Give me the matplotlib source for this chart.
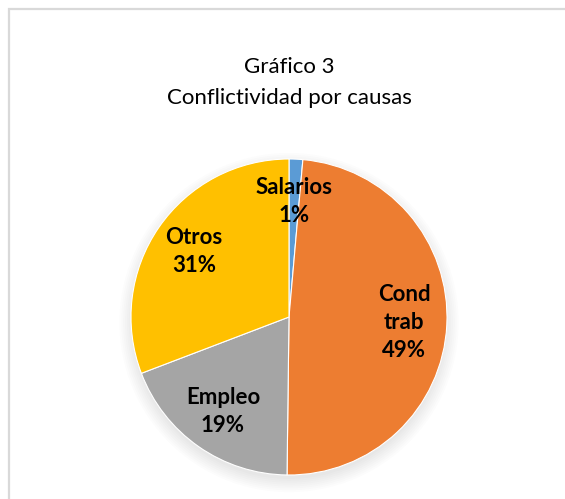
import matplotlib
matplotlib.use("Agg")
import matplotlib.pyplot as plt
from matplotlib.patches import Rectangle, Circle

categories = ["Salarios", "Cond trab", "Empleo", "Otros"]
label_text = ["Salarios", "Cond\ntrab", "Empleo", "Otros"]
values = [1.4, 48.8, 19.0, 30.8]
colors = ["#5B9BD5", "#ED7D31", "#A5A5A5", "#FFC000"]
title_lines = ["Gráfico 3", "Conflictividad por causas"]

plt.rcParams['font.family'] = ['Lato', 'DejaVu Sans']

W, H = 565, 499
fig = plt.figure(figsize=(W/100, H/100), dpi=100)
fig.patch.set_facecolor("white")

# outer chart border
fig.patches.append(Rectangle((8.5/W, -0.1), 1.2, 1.1 - 8.5/H,
                             transform=fig.transFigure, fill=False,
                             edgecolor="#D9D9D9", linewidth=1.6))

# pie axes: center (289,317), radius 158 px
R = 158
cx, cy = 289, 317
ax = fig.add_axes([(cx - R)/W, (H - cy - R)/H, 2*R/W, 2*R/H])
ax.axis("off")

# soft shadow
for i in range(8):
    ax.add_patch(Circle((0.0, -0.035), 0.99 + 0.012*i, color="#000000",
                        alpha=0.010, lw=0, zorder=0, clip_on=False))

wedges, texts, autotexts = ax.pie(
    values, colors=colors, startangle=90, counterclock=False, radius=1.0,
    wedgeprops=dict(edgecolor="white", linewidth=0.8),
    autopct=lambda p: f"{p:.0f}%", pctdistance=0.73,
    textprops=dict(fontsize=16, fontweight="bold", color="#000000"))
for t, n in zip(autotexts, label_text):
    t.set_text(n + "\n" + t.get_text())
    t.set_linespacing(1.42)
    t.set_zorder(5)

ax.set_xlim(-1, 1)
ax.set_ylim(-1, 1)
ax.set_aspect("equal")

fig.text(cx/W, 1 - 67/H, title_lines[0], ha="center", va="center",
         fontsize=16, color="#000000")
fig.text(cx/W, 1 - 98/H, title_lines[1], ha="center", va="center",
         fontsize=16, color="#000000")

fig.savefig("out.png", dpi=100)
